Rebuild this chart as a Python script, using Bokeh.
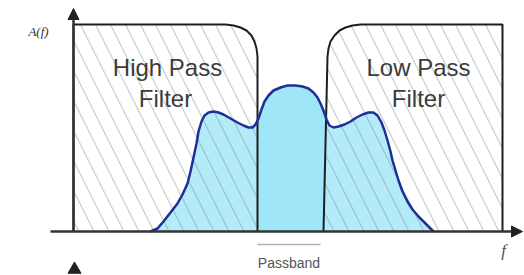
from bokeh.plotting import figure
from bokeh.models import Range1d, Arrow, NormalHead
from bokeh.core.properties import value
from bokeh.embed import file_html
from bokeh.resources import INLINE

# Signal spectrum (frequency, amplitude)
freq = [77, 84, 90, 97, 104, 109, 114, 117, 120, 123, 125, 128, 131, 135, 140, 145, 150, 157, 164, 170,
        175, 179, 182, 185, 188, 191, 195, 200, 207, 214, 222, 229, 235, 240, 244, 247, 250, 253, 256, 260,
        265, 271, 277, 283, 289, 295, 300, 304, 308, 311, 314, 317, 319, 322, 325, 329, 334, 339, 345, 351,
        356, 360]
amp = [0, 3, 10, 19, 28, 37, 48, 60, 74, 88, 100, 110, 116, 119, 120, 119, 117, 113, 109, 106,
       104, 104, 107, 113, 122, 130, 136, 141, 144, 146, 146, 145, 143, 139, 134, 128, 121, 112, 106, 104,
       105, 107, 110, 114, 117, 119, 119, 116, 109, 101, 91, 80, 71, 61, 51, 40, 30, 22, 15, 9,
       4, 0]

# High pass filter response
hpf_f = [0, 0, 152, 160, 167, 173, 178, 181, 183, 184, 184]
hpf_a = [0, 207, 207, 206, 204, 201, 196, 190, 183, 175, 0]

# Low pass filter response
lpf_f = [250, 254, 255, 257, 261, 266, 272, 279, 287, 429, 429]
lpf_a = [0, 175, 183, 190, 196, 201, 204, 206, 207, 207, 0]

# Passband limits
passband = [184, 247]

labels_hpf = ["High Pass", "Filter"]
labels_lpf = ["Low Pass", "Filter"]

p = figure(width=524, height=275, x_range=Range1d(-73, 451), y_range=Range1d(-44, 231),
           toolbar_location=None, output_backend="svg", min_border=0)
p.axis.visible = False
p.grid.visible = False
p.outline_line_color = None
p.background_fill_color = "white"

# signal fill
p.patch(freq, amp, fill_color="#9fe6f7", line_color=None)

# filters with hatch
for ff, aa in ((hpf_f, hpf_a), (lpf_f, lpf_a)):
    p.patch(ff, aa, fill_color="white", fill_alpha=0.22, line_color=None,
            hatch_pattern="\\", hatch_color="#7f8f95", hatch_alpha=0.45,
            hatch_weight=1.2, hatch_scale=30)
    p.line(ff, aa, line_color="#1e1e1e", line_width=2)

# signal outline
p.line(freq, amp, line_color="#1f2f9a", line_width=2.5)

# axes with arrows
p.add_layout(Arrow(end=NormalHead(size=11, fill_color="#222222", line_color="#222222"),
                   x_start=-23, y_start=0, x_end=449, y_end=0,
                   line_color="#333333", line_width=2.5))
p.add_layout(Arrow(end=NormalHead(size=11, fill_color="#222222", line_color="#222222"),
                   x_start=0, y_start=0, x_end=0, y_end=223,
                   line_color="#333333", line_width=2.5))
p.scatter([1], [-38], marker="triangle", size=13, fill_color="#222222", line_color="#222222")

# filter labels
font = value("Liberation Sans")
p.text(x=[94, 92], y=[164, 133], text=labels_hpf, text_font=font, text_font_size="24px",
       text_align="center", text_baseline="alphabetic", text_color="#3c3c3c")
p.text(x=[345, 345], y=[164, 133], text=labels_lpf, text_font=font, text_font_size="24px",
       text_align="center", text_baseline="alphabetic", text_color="#3c3c3c")

# axis labels
p.text(x=[-35], y=[200], text=["A(f)"], text_font=value("Liberation Serif"), text_font_style="italic",
       text_font_size="13px", text_align="center", text_baseline="middle", text_color="#333333")
p.text(x=[430], y=[-19], text=["f"], text_font=value("Liberation Serif"), text_font_style="italic",
       text_font_size="17px", text_align="center", text_baseline="middle", text_color="#555555")

# passband marker
p.line(passband, [-13, -13], line_color="#b0b0b0", line_width=1.5)
p.text(x=[(passband[0] + passband[1]) / 2], y=[-31], text=["Passband"], text_font=font,
       text_font_size="14px", text_align="center", text_baseline="middle", text_color="#555555")

open("out.html", "w").write(file_html(p, INLINE))
